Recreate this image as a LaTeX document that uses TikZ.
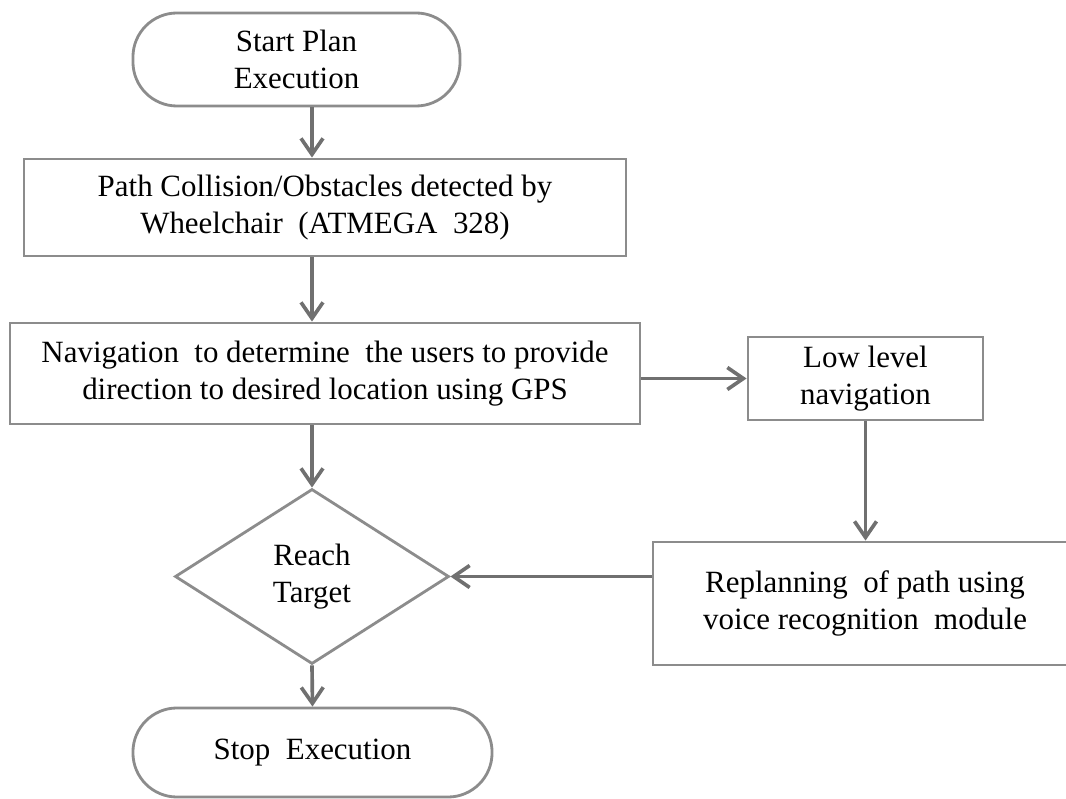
\documentclass[tikz,border=0pt]{standalone}
\usepackage{fontspec}
\setmainfont{Liberation Serif}
\usetikzlibrary{shapes.geometric,arrows.meta}

\definecolor{boxgray}{RGB}{140,140,140}
\definecolor{arrowgray}{RGB}{112,112,112}

\tikzset{
	flowbox/.style={rectangle, draw=boxgray, line width=2pt, fill=white, align=center, inner sep=0pt},
	terminal/.style={flowbox, rounded corners=1.1cm},
	decision/.style={diamond, draw=boxgray, line width=2pt, fill=white, align=center, inner sep=0pt},
	flowarrow/.style={draw=arrowgray, line width=2.6pt, -{Straight Barb[length=0.4cm,width=0.55cm]}}
}

\begin{document}
\begin{tikzpicture}[x=0.025cm, y=-0.025cm, font=\fontsize{22}{26.3}\selectfont]
	\useasboundingbox (0,0) rectangle (1066,799);
	\clip (0,0) rectangle (1066,799);

	\node 	(start)		at	(296.5,59.5) 	[terminal, minimum width=8.175cm, minimum height=2.325cm]{Start Plan\\Execution};

	\node 	(detect)	at	(325,207.5) 	[flowbox, minimum width=15.05cm, minimum height=2.425cm]{Path Collision/Obstacles detected by\\Wheelchair\ \ (ATMEGA\ \ 328)};

	\node 	(navi)		at	(325,373.5) 	[flowbox, minimum width=15.75cm, minimum height=2.525cm]{Navigation\ \ to determine\ \ the users to provide\\direction to desired location using GPS};

	\node 	(low)		at	(865.5,378.5) 	[flowbox, minimum width=5.875cm, minimum height=2.075cm]{Low level\\navigation};

	\node 	(reach)		at	(312,576.5) 	[decision, minimum width=6.85cm, minimum height=4.375cm]{Reach\\Target};

	\node 	(replan)	at	(865,603.5) 	[flowbox, minimum width=10.6cm, minimum height=3.075cm]{Replanning\ \ of path using\\voice recognition\ \ module};

	\node 	(stop)		at	(312.5,752.5) 	[terminal, minimum width=8.975cm, minimum height=2.225cm]{Stop\ \ Execution};

	\draw[flowarrow]	(start.south -| reach)	to	(detect.north -| reach);
	\draw[flowarrow]	(detect.south -| reach)	to	(navi.north -| reach);
	\draw[flowarrow]	(navi.south -| reach)	to	(reach.north);
	\draw[flowarrow]	(reach.south)	to	(stop.north);

	\draw[flowarrow]	(navi.east |- low.west)	to	(low.west);
	\draw[flowarrow]	(low.south)	to	(low.south |- replan.north);
	\draw[flowarrow]	(reach.east -| replan.west)	to	(reach.east);

\end{tikzpicture}
\end{document}
